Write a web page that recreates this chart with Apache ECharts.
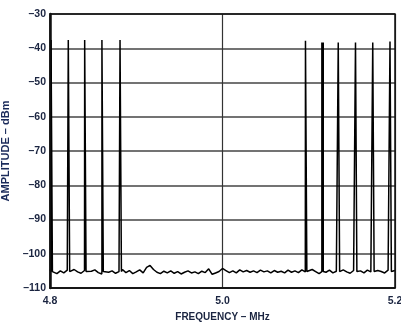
<!DOCTYPE html>
<html>
<head>
<meta charset="utf-8">
<script src="https://cdn.jsdelivr.net/npm/echarts@6/dist/echarts.min.js"></script>
<style>
  html, body { margin: 0; padding: 0; background: #fff; }
  #chart { width: 401px; height: 322px; }
</style>
</head>
<body>
<div id="chart"></div>
<script>
// noise floor, one value every 4 kHz from 4.800 to 5.200 MHz
const noiseStart = 4.8
const noiseStep = 0.004
const noiseLevels = [
  -104.6, -105.4, -105.8, -105.0, -105.6, -104.8, -105.5, -104.6, -105.3, -105.7,
  -104.9, -105.6, -105.1, -104.7, -105.5, -105.9, -104.8, -105.4, -105.0, -105.7,
  -105.2, -104.6, -105.5, -104.9, -105.8, -105.3, -104.7, -105.6, -104.0, -103.4,
  -104.6, -105.4, -105.8, -105.1, -105.6, -105.0, -105.7, -105.2, -105.9, -105.4,
  -105.0, -105.6, -105.3, -105.8, -105.1, -105.5, -104.4, -106.0, -105.6, -105.2,
  -104.3, -104.9, -105.5, -105.0, -105.6, -104.7, -105.3, -104.9, -105.4, -105.0,
  -105.5, -104.8, -105.3, -105.0, -105.6, -104.9, -105.4, -105.1, -105.6, -104.8,
  -105.4, -105.0, -105.5, -104.7, -105.3, -105.6, -104.6, -105.2, -105.8, -105.0,
  -105.4, -104.8, -105.6, -105.1, -105.5, -104.7, -105.3, -105.7, -104.9, -105.4,
  -105.0, -105.6, -104.8, -105.3, -105.7, -104.9, -105.2, -105.6, -104.8, -105.3,
  -104.9
]

// carriers (MHz) and their peak levels (dBm)
const toneFreqs = [4.802, 4.822, 4.841, 4.861, 4.882, 5.097, 5.116, 5.135, 5.155, 5.175, 5.195]
const tonePeaks = [-37.6, -37.6, -37.6, -37.6, -37.6, -37.8, -38.3, -38.3, -38.3, -38.3, -38.0]
const toneBase = -105.2

const yTicks = [-30, -40, -50, -60, -70, -80, -90, -100, -110]
const xTicks = [4.8, 5.0, 5.2]

// build the trace: noise points plus a narrow spike for each carrier
const trace = noiseLevels.map((v, i) => [noiseStart + i * noiseStep, v])
toneFreqs.forEach((f, i) => {
  trace.push([f - 0.0008, toneBase])
  trace.push([f - 0.0008, tonePeaks[i]])
  trace.push([f + 0.0008, tonePeaks[i]])
  trace.push([f + 0.0008, toneBase])
})
trace.sort((a, b) => a[0] - b[0])

const labelFont = { fontFamily: 'Liberation Sans', fontWeight: 'bold', color: '#1a2440' }

const chart = echarts.init(document.getElementById('chart'))

chart.setOption({
  animation: false,
  grid: { left: 50, right: 6, top: 14, bottom: 34, outerBoundsMode: 'none' },
  xAxis: {
    type: 'value',
    min: 4.8,
    max: 5.2,
    interval: 0.2,
    name: 'FREQUENCY – MHz',
    nameLocation: 'middle',
    nameGap: 23,
    nameTextStyle: Object.assign({ fontSize: 10 }, labelFont),
    axisLine: { lineStyle: { color: '#111', width: 1.5 } },
    axisTick: { show: false },
    axisLabel: Object.assign({
      margin: 8,
      fontSize: 10.5,
      formatter: v => xTicks.some(t => Math.abs(t - v) < 1e-6) ? v.toFixed(1) : ''
    }, labelFont),
    splitLine: { show: true, lineStyle: { color: '#333', width: 1.2 } }
  },
  yAxis: {
    type: 'value',
    min: -110,
    max: -30,
    interval: 10,
    name: 'AMPLITUDE – dBm',
    nameLocation: 'middle',
    nameGap: 28,
    nameTextStyle: Object.assign({ fontSize: 11 }, labelFont, { color: '#1a2a5a' }),
    axisLine: { show: true, lineStyle: { color: '#111', width: 2.5 } },
    axisTick: { show: false },
    axisLabel: Object.assign({
      margin: 4,
      fontSize: 10.5,
      formatter: v => yTicks.includes(v) ? '–' + Math.abs(v) : ''
    }, labelFont),
    splitLine: { show: true, lineStyle: { color: '#444', width: 1.5 } }
  },
  series: [
    {
      type: 'line',
      data: trace,
      showSymbol: false,
      lineStyle: { color: '#000', width: 1.5 },
      z: 3
    }
  ],
  graphic: [
    {
      type: 'rect',
      shape: { x: 50, y: 14, width: 345, height: 274 },
      style: { fill: 'none', stroke: '#111', lineWidth: 1.5 },
      z: 10,
      silent: true
    }
  ]
})
</script>
</body>
</html>
